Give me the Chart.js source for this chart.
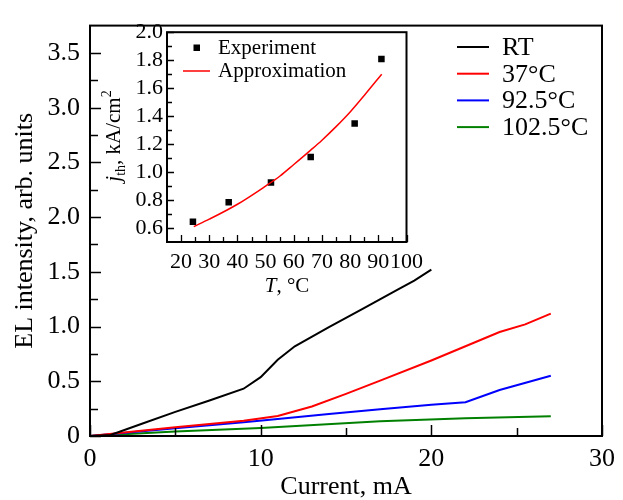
<!DOCTYPE html>
<html>
<head>
<meta charset="utf-8">
<title>EL intensity vs current</title>
<script src="https://cdn.jsdelivr.net/npm/chart.js@4.4.1/dist/chart.umd.min.js"></script>
<style>
    html, body { margin: 0; padding: 0; background: #fff; }
    #wrap { position: relative; width: 623px; height: 500px; }
    #mainBox { position: absolute; left: 0; top: 0; width: 623px; height: 500px; }
    #insetBox { position: absolute; left: 100px; top: 15px; width: 330px; height: 290px; }
</style>
</head>
<body>
<div id="wrap">
    <div id="mainBox"><canvas id="mainChart"></canvas></div>
    <div id="insetBox"><canvas id="insetChart"></canvas></div>
</div>
<script>
// Main plot data: EL intensity (arb. units) vs current (mA)
const rtCurrent = [0, 1.2, 3, 5, 7, 9, 10, 11, 12, 14, 16, 18, 19, 20];
const rtIntensity = [0, 0.01, 0.11, 0.22, 0.325, 0.432, 0.538, 0.697, 0.82, 0.994, 1.165, 1.335, 1.42, 1.52];

const t37Current = [0, 5, 9, 11, 13, 15, 17, 20, 22, 24, 25.5, 27];
const t37Intensity = [0, 0.08, 0.14, 0.182, 0.27, 0.385, 0.506, 0.69, 0.82, 0.95, 1.02, 1.118];

const t92Current = [0, 5, 9, 11, 14, 17, 20, 22, 24, 27];
const t92Intensity = [0, 0.07, 0.125, 0.156, 0.2, 0.244, 0.285, 0.309, 0.42, 0.55];

const t102Current = [0, 5, 10, 17, 22, 27];
const t102Intensity = [0, 0.04, 0.074, 0.135, 0.162, 0.18];

const seriesNames = ['RT', '37°C', '92.5°C', '102.5°C'];

// Inset data: threshold current density vs temperature
const expTemp = [24.2, 36.9, 51.9, 66, 81.6, 91.1];
const expJth = [0.645, 0.785, 0.925, 1.107, 1.348, 1.808];
const fitTemp = [24.5, 30, 40, 50, 55, 60, 66, 70, 75, 80, 85, 91.2];
const fitJth = [0.61, 0.663, 0.77, 0.9, 0.97, 1.054, 1.157, 1.228, 1.325, 1.43, 1.548, 1.70];

// Tick values
const mainXTicks = [0, 10, 20, 30];
const mainXMinor = [5, 15, 25];
const mainYTicks = [0, 0.5, 1, 1.5, 2, 2.5, 3, 3.5];
const mainYMinor = [0.25, 0.75, 1.25, 1.75, 2.25, 2.75, 3.25];
const insetXTicks = [20, 30, 40, 50, 60, 70, 80, 90, 100];
const insetXMinor = [25, 35, 45, 55, 65, 75, 85, 95];
const insetYTicks = [0.6, 0.8, 1.0, 1.2, 1.4, 1.6, 1.8, 2.0];
const insetYMinor = [0.7, 0.9, 1.1, 1.3, 1.5, 1.7, 1.9];

const serif = "'Liberation Serif', 'Times New Roman', serif";
const colors = ['#000000', '#ff0000', '#0000ff', '#008000'];

function toPoints(xs, ys) {
    return xs.map((x, i) => ({ x: x, y: ys[i] }));
}

/**
 * Frame plus inward-pointing ticks on bottom and left axes
 */
const innerTicks = {
    id: 'innerTicks',
    afterDraw(chart, args, opts) {
        const { ctx, chartArea: a, scales } = chart;
        ctx.save();
        ctx.strokeStyle = '#000';
        ctx.lineWidth = opts.tickWidth;
        ctx.beginPath();
        const xt = (list, len) => list.forEach(v => {
            const p = Math.round(scales.x.getPixelForValue(v)) + 0.5;
            ctx.moveTo(p, a.bottom);
            ctx.lineTo(p, a.bottom - len);
        });
        const yt = (list, len) => list.forEach(v => {
            const p = Math.round(scales.y.getPixelForValue(v)) + 0.5;
            ctx.moveTo(a.left, p);
            ctx.lineTo(a.left + len, p);
        });
        xt(opts.xMajor, opts.majorLen);
        xt(opts.xMinor, opts.minorLen);
        yt(opts.yMajor, opts.majorLen);
        yt(opts.yMinor, opts.minorLen);
        ctx.stroke();
        ctx.lineWidth = opts.frameWidth;
        ctx.strokeRect(a.left, a.top, a.right - a.left, a.bottom - a.top);
        ctx.restore();
    }
};

/**
 * Legend of the main plot, drawn inside the plot area
 */
const mainLegend = {
    id: 'mainLegend',
    afterDraw(chart) {
        const ctx = chart.ctx;
        ctx.save();
        ctx.font = '26px ' + serif;
        ctx.textBaseline = 'middle';
        ctx.fillStyle = '#000';
        seriesNames.forEach((name, i) => {
            const y = 47 + i * 26.7;
            ctx.strokeStyle = colors[i];
            ctx.lineWidth = 2;
            ctx.beginPath();
            ctx.moveTo(457, y);
            ctx.lineTo(489, y);
            ctx.stroke();
            ctx.fillText(name, 502, y + 1);
        });
        ctx.restore();
    }
};

/**
 * Inset legend and axis titles (italic symbols, sub/superscripts)
 */
const insetText = {
    id: 'insetText',
    afterDraw(chart) {
        const ctx = chart.ctx;
        ctx.save();
        ctx.fillStyle = '#000';
        ctx.textBaseline = 'middle';
        ctx.font = '21px ' + serif;
        // legend
        ctx.fillRect(93.5, 29.5, 6.5, 6.5);
        ctx.fillText('Experiment', 118, 33);
        ctx.strokeStyle = '#ff0000';
        ctx.lineWidth = 1.5;
        ctx.beginPath();
        ctx.moveTo(83, 56);
        ctx.lineTo(110, 56);
        ctx.stroke();
        ctx.fillText('Approximation', 118, 56);

        // x title: T, °C
        ctx.textBaseline = 'alphabetic';
        ctx.font = 'italic 21px ' + serif;
        const tW = ctx.measureText('T').width;
        ctx.font = '21px ' + serif;
        const restW = ctx.measureText(', °C').width;
        let x0 = 187 - (tW + restW) / 2;
        ctx.font = 'italic 21px ' + serif;
        ctx.fillText('T', x0, 277);
        ctx.font = '21px ' + serif;
        ctx.fillText(', °C', x0 + tW, 277);

        // y title: j_th, kA/cm^2 (rotated)
        const parts = [
            { t: 'j', f: 'italic 21px ', dy: 0 },
            { t: 'th', f: '14px ', dy: 5 },
            { t: ', kA/cm', f: '21px ', dy: 0 },
            { t: '2', f: '14px ', dy: -9 }
        ];
        let total = 0;
        parts.forEach(p => { ctx.font = p.f + serif; p.w = ctx.measureText(p.t).width; total += p.w; });
        ctx.translate(20, 121);
        ctx.rotate(-Math.PI / 2);
        let cx = -total / 2;
        parts.forEach(p => {
            ctx.font = p.f + serif;
            ctx.fillText(p.t, cx, p.dy);
            cx += p.w;
        });
        ctx.restore();
    }
};

function initMainChart() {
    const ctx = document.getElementById('mainChart');
    const data = {
        datasets: [
            { label: seriesNames[0], data: toPoints(rtCurrent, rtIntensity), borderColor: colors[0] },
            { label: seriesNames[1], data: toPoints(t37Current, t37Intensity), borderColor: colors[1] },
            { label: seriesNames[2], data: toPoints(t92Current, t92Intensity), borderColor: colors[2] },
            { label: seriesNames[3], data: toPoints(t102Current, t102Intensity), borderColor: colors[3] }
        ].map(d => Object.assign(d, { borderWidth: 2, pointRadius: 0, tension: 0, fill: false }))
    };

    const options = {
        responsive: false,
        animation: false,
        layout: { padding: { top: 9, right: 14, left: 0, bottom: 0 } },
        plugins: {
            legend: { display: false },
            tooltip: { enabled: false },
            innerTicks: {
                xMajor: mainXTicks, xMinor: mainXMinor,
                yMajor: mainYTicks, yMinor: mainYMinor,
                majorLen: 11, minorLen: 8, tickWidth: 1.5, frameWidth: 2
            }
        },
        scales: {
            x: {
                type: 'linear',
                min: 0,
                max: 30,
                grid: { display: false, drawTicks: false, tickLength: 0 },
                border: { display: false },
                afterBuildTicks: s => { s.ticks = mainXTicks.map(v => ({ value: v })); },
                afterFit: s => { s.height = 64; },
                ticks: {
                    color: '#000',
                    font: { family: serif, size: 26 },
                    padding: 8,
                    autoSkip: false,
                    maxRotation: 0,
                    callback: v => String(v)
                },
                title: {
                    display: true,
                    text: 'Current, mA',
                    color: '#000',
                    font: { family: serif, size: 26, lineHeight: 1 },
                    padding: { top: 0, bottom: 0 }
                }
            },
            y: {
                min: 0,
                max: 3.75,
                grid: { display: false, drawTicks: false, tickLength: 0 },
                border: { display: false },
                afterBuildTicks: s => { s.ticks = mainYTicks.map(v => ({ value: v })); },
                afterFit: s => { s.width = 90; },
                ticks: {
                    color: '#000',
                    font: { family: serif, size: 26 },
                    padding: 10,
                    autoSkip: false,
                    callback: v => (v === 0 ? '0' : v.toFixed(1))
                },
                title: {
                    display: true,
                    text: 'EL intensity, arb. units',
                    color: '#000',
                    font: { family: serif, size: 26, lineHeight: 1 },
                    padding: { top: 12, bottom: 0 }
                }
            }
        }
    };

    ctx.width = 623;
    ctx.height = 500;
    window.charts = window.charts || {};
    window.charts.main = new Chart(ctx, {
        type: 'line',
        data: data,
        options: options,
        plugins: [innerTicks, mainLegend]
    });
}

function initInsetChart() {
    const ctx = document.getElementById('insetChart');
    const data = {
        datasets: [
            {
                label: 'Approximation',
                type: 'line',
                data: toPoints(fitTemp, fitJth),
                borderColor: '#ff0000',
                borderWidth: 1.5,
                pointRadius: 0,
                cubicInterpolationMode: 'monotone',
                fill: false
            },
            {
                label: 'Experiment',
                type: 'scatter',
                data: toPoints(expTemp, expJth),
                pointStyle: 'rect',
                pointRadius: 4.6,
                backgroundColor: '#000',
                borderColor: '#000',
                borderWidth: 0
            }
        ]
    };

    const options = {
        responsive: false,
        animation: false,
        layout: { padding: { top: 10, right: 21, left: 0, bottom: 8 } },
        plugins: {
            legend: { display: false },
            tooltip: { enabled: false },
            innerTicks: {
                xMajor: insetXTicks, xMinor: insetXMinor,
                yMajor: insetYTicks, yMinor: insetYMinor,
                majorLen: 7, minorLen: 5, tickWidth: 1.3, frameWidth: 2
            }
        },
        scales: {
            x: {
                type: 'linear',
                min: 15,
                max: 100,
                grid: { display: false, drawTicks: false, tickLength: 0 },
                border: { display: false },
                afterBuildTicks: s => { s.ticks = insetXTicks.map(v => ({ value: v })); },
                afterFit: s => { s.height = 55; },
                ticks: {
                    color: '#000',
                    font: { family: serif, size: 22 },
                    padding: 7,
                    autoSkip: false,
                    maxRotation: 0,
                    callback: v => String(v)
                }
            },
            y: {
                min: 0.5,
                max: 2.0,
                grid: { display: false, drawTicks: false, tickLength: 0 },
                border: { display: false },
                afterBuildTicks: s => { s.ticks = insetYTicks.map(v => ({ value: v })); },
                afterFit: s => { s.width = 67; },
                ticks: {
                    color: '#000',
                    font: { family: serif, size: 22 },
                    padding: 4,
                    autoSkip: false,
                    callback: v => v.toFixed(1)
                }
            }
        }
    };

    ctx.width = 330;
    ctx.height = 290;
    window.charts.inset = new Chart(ctx, {
        type: 'scatter',
        data: data,
        options: options,
        plugins: [innerTicks, insetText]
    });
}

initMainChart();
initInsetChart();
</script>
</body>
</html>
